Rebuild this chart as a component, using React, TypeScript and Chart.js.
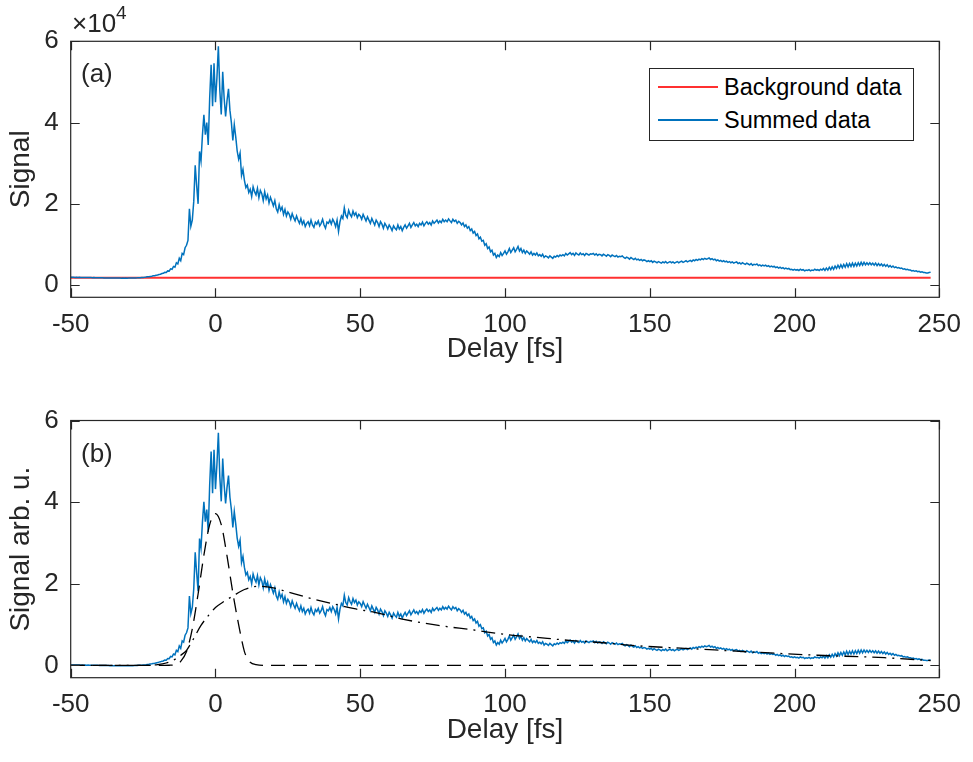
import React, { useEffect, useRef } from 'react';
import { Chart, registerables } from 'chart.js';

Chart.register(...registerables);

// Sampling grid of the measured delay scan (fs)
const delayStart = -50;
const delayStep = 0.5;

// Summed signal, panel (a), in units of 10^4 (one value per 0.5 fs from -50 to 247 fs)
const summedSignal = [
  // -50 .. -40.5
  0.194, 0.191, 0.193, 0.190, 0.192, 0.189, 0.191, 0.188, 0.190, 0.187, 0.189, 0.186, 0.188, 0.185, 0.187, 0.184, 0.186, 0.183, 0.184, 0.182,
  // -40 .. -30.5
  0.181, 0.179, 0.180, 0.177, 0.178, 0.176, 0.177, 0.175, 0.176, 0.174, 0.175, 0.173, 0.174, 0.172, 0.173, 0.171, 0.173, 0.171, 0.172, 0.171,
  // -30 .. -20.5
  0.173, 0.172, 0.174, 0.175, 0.176, 0.178, 0.179, 0.182, 0.184, 0.187, 0.190, 0.193, 0.197, 0.203, 0.207, 0.214, 0.220, 0.228, 0.233, 0.242,
  // -20 .. -10.5
  0.25, 0.262, 0.268, 0.285, 0.29, 0.315, 0.31, 0.35, 0.345, 0.40, 0.39, 0.46, 0.44, 0.55, 0.52, 0.66, 0.60, 0.78, 0.75, 0.92,
  // -10 .. -0.5
  0.98, 1.10, 1.88, 1.45, 1.60, 2.06, 2.95, 2.45, 2.00, 3.29, 3.05, 3.69, 4.19, 3.70, 4.00, 3.45, 4.60, 5.42, 4.40, 5.46,
  // 0 .. 9.5
  4.50, 5.10, 5.88, 4.80, 4.20, 5.25, 4.60, 4.15, 4.55, 4.83, 4.30, 4.00, 3.56, 3.95, 3.65, 3.30, 3.10, 3.25, 2.70, 2.85,
  // 10 .. 19.5
  2.58, 2.40, 2.46, 2.28, 2.36, 2.18, 2.42, 2.30, 2.22, 2.38, 2.15, 2.33, 2.25, 2.08, 2.30, 2.12, 2.22, 2.02, 2.16, 2.06,
  // 20 .. 29.5
  1.95, 2.08, 1.88, 1.80, 1.98, 1.84, 1.92, 1.74, 1.86, 1.70, 1.80, 1.74, 1.62, 1.76, 1.66, 1.58, 1.70, 1.60, 1.52, 1.64,
  // 30 .. 39.5
  1.50, 1.58, 1.44, 1.52, 1.56, 1.46, 1.60, 1.48, 1.42, 1.55, 1.50, 1.58, 1.46, 1.52, 1.62, 1.48, 1.40, 1.55, 1.52, 1.60,
  // 40 .. 49.5
  1.50, 1.62, 1.55, 1.44, 1.60, 1.32, 1.56, 1.70, 1.64, 1.90, 1.72, 1.66, 1.84, 1.74, 1.68, 1.82, 1.72, 1.78, 1.66, 1.74,
  // 50 .. 59.5
  1.70, 1.62, 1.74, 1.66, 1.58, 1.68, 1.60, 1.52, 1.64, 1.56, 1.48, 1.60, 1.54, 1.44, 1.56, 1.50, 1.40, 1.52, 1.46, 1.38,
  // 60 .. 69.5
  1.48, 1.42, 1.34, 1.46, 1.40, 1.36, 1.48, 1.38, 1.44, 1.34, 1.42, 1.48, 1.40, 1.46, 1.52, 1.42, 1.48, 1.54, 1.46, 1.50,
  // 70 .. 79.5
  1.44, 1.52, 1.48, 1.55, 1.46, 1.52, 1.56, 1.50, 1.54, 1.48, 1.58, 1.52, 1.56, 1.60, 1.53, 1.58, 1.54, 1.62, 1.56, 1.60,
  // 80 .. 89.5
  1.56, 1.63, 1.58, 1.54, 1.62, 1.57, 1.60, 1.52, 1.57, 1.54, 1.48, 1.53, 1.44, 1.48, 1.40, 1.44, 1.34, 1.38, 1.28, 1.32,
  // 90 .. 99.5
  1.22, 1.26, 1.14, 1.18, 1.08, 1.10, 0.98, 1.02, 0.90, 0.94, 0.82, 0.86, 0.74, 0.78, 0.68, 0.74, 0.70, 0.80, 0.73, 0.78,
  // 100 .. 109.5
  0.84, 0.76, 0.82, 0.90, 0.80, 0.86, 0.92, 0.82, 0.88, 0.95, 0.84, 0.90, 0.80, 0.86, 0.78, 0.84, 0.80, 0.76, 0.82, 0.74,
  // 110 .. 119.5
  0.78, 0.74, 0.79, 0.72, 0.75, 0.71, 0.76, 0.68, 0.72, 0.70, 0.67, 0.72, 0.69, 0.66, 0.71, 0.69, 0.73, 0.70, 0.74, 0.72,
  // 120 .. 129.5
  0.75, 0.72, 0.78, 0.74, 0.77, 0.80, 0.75, 0.78, 0.73, 0.79, 0.76, 0.74, 0.79, 0.75, 0.77, 0.73, 0.78, 0.76, 0.74, 0.77,
  // 130 .. 139.5
  0.76, 0.78, 0.74, 0.77, 0.73, 0.76, 0.75, 0.72, 0.76, 0.74, 0.71, 0.75, 0.73, 0.70, 0.74, 0.72, 0.70, 0.73, 0.69, 0.71,
  // 140 .. 149.5
  0.70, 0.72, 0.68, 0.66, 0.69, 0.67, 0.64, 0.68, 0.65, 0.63, 0.66, 0.62, 0.64, 0.61, 0.63, 0.60, 0.62, 0.61, 0.58, 0.60,
  // 150 .. 159.5
  0.58, 0.60, 0.56, 0.59, 0.57, 0.55, 0.58, 0.56, 0.54, 0.57, 0.55, 0.58, 0.54, 0.56, 0.58, 0.55, 0.57, 0.54, 0.56, 0.58,
  // 160 .. 169.5
  0.55, 0.57, 0.59, 0.56, 0.58, 0.60, 0.57, 0.59, 0.61, 0.58, 0.62, 0.60, 0.63, 0.61, 0.64, 0.62, 0.65, 0.63, 0.66, 0.64,
  // 170 .. 179.5
  0.65, 0.67, 0.63, 0.65, 0.62, 0.64, 0.60, 0.62, 0.59, 0.61, 0.58, 0.60, 0.57, 0.59, 0.56, 0.58, 0.55, 0.57, 0.54, 0.56,
  // 180 .. 189.5
  0.57, 0.53, 0.55, 0.52, 0.55, 0.53, 0.51, 0.54, 0.52, 0.50, 0.53, 0.49, 0.51, 0.50, 0.52, 0.48, 0.50, 0.47, 0.49, 0.47,
  // 190 .. 199.5
  0.49, 0.46, 0.48, 0.45, 0.47, 0.45, 0.46, 0.43, 0.45, 0.42, 0.44, 0.41, 0.43, 0.40, 0.42, 0.40, 0.41, 0.38, 0.39, 0.37,
  // 200 .. 209.5
  0.39, 0.37, 0.38, 0.36, 0.39, 0.37, 0.38, 0.35, 0.37, 0.36, 0.38, 0.35, 0.37, 0.36, 0.39, 0.37, 0.38, 0.36, 0.39, 0.37,
  // 210 .. 219.5
  0.41, 0.36, 0.42, 0.37, 0.44, 0.38, 0.45, 0.39, 0.47, 0.41, 0.49, 0.42, 0.50, 0.43, 0.51, 0.44, 0.53, 0.45, 0.53, 0.46,
  // 220 .. 229.5
  0.54, 0.46, 0.54, 0.47, 0.55, 0.48, 0.56, 0.49, 0.56, 0.50, 0.55, 0.50, 0.55, 0.50, 0.54, 0.49, 0.54, 0.48, 0.53, 0.48,
  // 230 .. 239.5
  0.52, 0.47, 0.51, 0.46, 0.50, 0.45, 0.48, 0.44, 0.47, 0.43, 0.45, 0.42, 0.43, 0.41, 0.42, 0.39, 0.40, 0.38, 0.39, 0.37,
  // 240 .. 247
  0.37, 0.35, 0.36, 0.34, 0.35, 0.33, 0.34, 0.32, 0.33, 0.31, 0.31, 0.30, 0.30, 0.31, 0.32,
];

// Background level, panel (a), in units of 10^4
const backgroundDelay = [-50, 247];
const backgroundSignal = [0.18, 0.18];

// Fit components, panel (b), arb. u.
const fastDelay = [-50, -20, -16, -14, -12, -10, -8, -6, -4, -2, 0, 2, 4, 6, 8, 10, 11, 12, 14, 17, 247];
const fastFit = [0, 0, 0.005, 0.02, 0.1, 0.34, 0.9, 1.75, 2.7, 3.45, 3.72, 3.45, 2.68, 1.78, 1.0, 0.34, 0.18, 0.08, 0.02, 0, 0];

const slowDelay = [-50, -25, -20, -17, -14, -12, -10, -8, -5, -2, 0, 3, 6, 10, 15, 20, 25, 32, 40, 48, 55, 65, 77, 89, 100, 112, 123, 135, 146, 162, 185, 208, 231, 247];
const slowFit = [0, 0, 0.02, 0.06, 0.15, 0.25, 0.37, 0.6, 0.98, 1.26, 1.42, 1.57, 1.7, 1.86, 1.94, 1.9, 1.8, 1.66, 1.52, 1.39, 1.3, 1.13, 0.98, 0.87, 0.76, 0.68, 0.61, 0.55, 0.48, 0.42, 0.33, 0.25, 0.19, 0.12];

// Axis ticks
const xTicks = [-50, 0, 50, 100, 150, 200, 250];
const yTicks = [0, 2, 4, 6];

const FONT = "'Liberation Sans', Arial, Helvetica, sans-serif";
const AXIS_COLOR = '#262626';
const BLUE = '#0072BD';
const RED = '#FF3030';

const boxPlugin = {
  id: 'matlabBox',
  afterDatasetsDraw(chart: any) {
    const { ctx, chartArea: a, scales } = chart;
    ctx.save();
    ctx.strokeStyle = AXIS_COLOR;
    ctx.lineWidth = 1.2;
    const L = 9;
    ctx.beginPath();
    for (const t of scales.x.ticks) {
      const px = Math.round(scales.x.getPixelForValue(t.value)) + 0.5;
      ctx.moveTo(px, a.bottom);
      ctx.lineTo(px, a.bottom - L);
      ctx.moveTo(px, a.top);
      ctx.lineTo(px, a.top + L);
    }
    for (const t of scales.y.ticks) {
      const py = Math.round(scales.y.getPixelForValue(t.value)) + 0.5;
      ctx.moveTo(a.left, py);
      ctx.lineTo(a.left + L, py);
      ctx.moveTo(a.right, py);
      ctx.lineTo(a.right - L, py);
    }
    ctx.stroke();
    ctx.strokeRect(a.left, a.top, a.right - a.left, a.bottom - a.top);
    ctx.restore();
  },
};

function makeOptions(yTitle: string, padTop: number, xHeight: number): any {
  return {
    responsive: false,
    animation: false,
    devicePixelRatio: 1,
    layout: { padding: { top: padTop, left: 0, right: 32.3, bottom: 0 } },
    plugins: { legend: { display: false }, tooltip: { enabled: false } },
    events: [],
    scales: {
      x: {
        type: 'linear',
        min: xTicks[0],
        max: xTicks[xTicks.length - 1],
        afterBuildTicks: (s: any) => {
          s.ticks = xTicks.map((v) => ({ value: v }));
        },
        afterFit: (s: any) => {
          s.height = xHeight;
        },
        grid: { display: false, drawTicks: false },
        border: { display: false },
        ticks: {
          autoSkip: false,
          maxRotation: 0,
          padding: 12,
          color: AXIS_COLOR,
          font: { family: FONT, size: 26 },
          callback: (v: any) => String(v),
        },
        title: {
          display: true,
          text: 'Delay [fs]',
          color: AXIS_COLOR,
          font: { family: FONT, size: 28 },
          padding: { top: 0, bottom: 15 },
        },
      },
      y: {
        type: 'linear',
        min: -0.3,
        max: 6,
        afterBuildTicks: (s: any) => {
          s.ticks = yTicks.map((v) => ({ value: v }));
        },
        afterFit: (s: any) => {
          s.width = 70.7;
        },
        grid: { display: false, drawTicks: false },
        border: { display: false },
        ticks: {
          padding: 12,
          color: AXIS_COLOR,
          font: { family: FONT, size: 26 },
          callback: (v: any) => String(v),
        },
        title: {
          display: true,
          text: yTitle,
          color: AXIS_COLOR,
          font: { family: FONT, size: 28 },
          padding: { top: 4, bottom: 0 },
        },
      },
    },
  };
}

export default function App() {
  const refA = useRef<HTMLCanvasElement>(null);
  const refB = useRef<HTMLCanvasElement>(null);

  useEffect(() => {
    const delays = summedSignal.map((_, i) => delayStart + i * delayStep);
    const summedPts = delays.map((x, i) => ({ x, y: summedSignal[i] }));
    const bgPts = backgroundDelay.map((x, i) => ({ x, y: backgroundSignal[i] }));
    const corrected = delays.map((x, i) => ({ x, y: summedSignal[i] - backgroundSignal[0] }));
    const fastPts = fastDelay.map((x, i) => ({ x, y: fastFit[i] }));
    const slowPts = slowDelay.map((x, i) => ({ x, y: slowFit[i] }));

    const chartA = new Chart(refA.current as HTMLCanvasElement, {
      type: 'line',
      data: {
        datasets: [
          { label: 'Summed data', data: summedPts, borderColor: BLUE, borderWidth: 1.5, pointRadius: 0, tension: 0 },
          { label: 'Background data', data: bgPts, borderColor: RED, borderWidth: 2, pointRadius: 0, tension: 0 },
        ],
      },
      options: makeOptions('Signal', 41.3, 83.7),
      plugins: [boxPlugin],
    } as any);

    const chartB = new Chart(refB.current as HTMLCanvasElement, {
      type: 'line',
      data: {
        datasets: [
          { label: 'Fast', data: fastPts, borderColor: '#000', borderWidth: 1.3, borderDash: [14, 8], pointRadius: 0, cubicInterpolationMode: 'monotone' },
          { label: 'Slow', data: slowPts, borderColor: '#000', borderWidth: 1.3, borderDash: [14, 6, 2, 6], pointRadius: 0, cubicInterpolationMode: 'monotone' },
          { label: 'Corrected', data: corrected, borderColor: BLUE, borderWidth: 1.5, pointRadius: 0, tension: 0 },
        ],
      },
      options: makeOptions('Signal arb. u.', 39.5, 84.3),
      plugins: [boxPlugin],
    } as any);

    return () => {
      chartA.destroy();
      chartB.destroy();
    };
  }, []);

  const txt: React.CSSProperties = { position: 'absolute', fontFamily: FONT, color: AXIS_COLOR, whiteSpace: 'nowrap', lineHeight: 1 };

  return (
    <div style={{ position: 'absolute', left: 0, top: 0, width: 973, height: 762, background: '#fff', overflow: 'hidden' }}>
      <canvas ref={refA} width={973} height={381} style={{ position: 'absolute', left: 0, top: 0, width: 973, height: 381 }} />
      <canvas ref={refB} width={973} height={381} style={{ position: 'absolute', left: 0, top: 381, width: 973, height: 381 }} />

      <div style={{ ...txt, left: 72, top: 10, fontSize: 26 }}>
        ×10<span style={{ fontSize: 19, position: 'relative', top: -13 }}>4</span>
      </div>

      <div style={{ ...txt, left: 81, top: 60, fontSize: 26 }}>(a)</div>
      <div style={{ ...txt, left: 81, top: 440, fontSize: 26 }}>(b)</div>

      <div style={{ position: 'absolute', left: 649, top: 68, width: 263, height: 71, border: `1.3px solid ${AXIS_COLOR}`, background: '#fff' }}>
        <div style={{ position: 'absolute', left: 8, top: 17, width: 60, height: 2, background: RED }} />
        <div style={{ ...txt, left: 74, top: 7, fontSize: 23.5, color: '#000' }}>Background data</div>
        <div style={{ position: 'absolute', left: 8, top: 50, width: 60, height: 1.6, background: BLUE }} />
        <div style={{ ...txt, left: 74, top: 40, fontSize: 23.5, color: '#000' }}>Summed data</div>
      </div>
    </div>
  );
}
